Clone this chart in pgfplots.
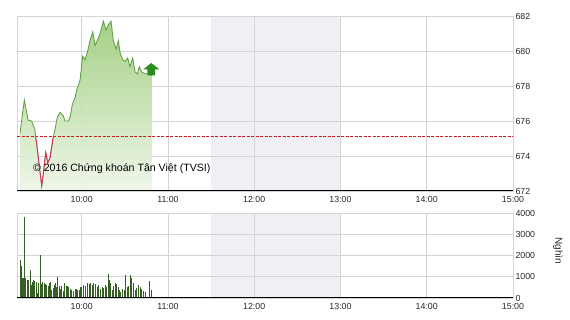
\documentclass[border=0pt]{standalone}
\usepackage{pgfplots}
\pgfplotsset{compat=1.18}
\usepackage{pgfplotstable}
\usepackage{fontspec}
\setmainfont{Liberation Sans}
\definecolor{linegreen}{RGB}{95,160,70}
\definecolor{filltop}{RGB}{155,203,120}
\definecolor{fillbot}{RGB}{238,246,232}
\definecolor{redline}{RGB}{225,40,90}
\definecolor{refred}{RGB}{200,30,30}
\definecolor{shadegray}{RGB}{240,240,244}
\definecolor{gridgray}{RGB}{212,212,212}
\definecolor{bargreen}{RGB}{55,95,35}
\definecolor{arrowgreen}{RGB}{40,140,30}

\pgfdeclareplotmark{tvarrow}{%
  \pgfpathmoveto{\pgfpoint{-4.5pt}{0pt}}%
  \pgfpathlineto{\pgfpoint{3.3pt}{0pt}}%
  \pgfpathlineto{\pgfpoint{3.3pt}{6pt}}%
  \pgfpathlineto{\pgfpoint{7.6pt}{6pt}}%
  \pgfpathlineto{\pgfpoint{-0.6pt}{12.5pt}}%
  \pgfpathlineto{\pgfpoint{-8.8pt}{6pt}}%
  \pgfpathlineto{\pgfpoint{-4.5pt}{6pt}}%
  \pgfpathclose
  \pgfusepathqfill}

% minutes after 9:00, index value
\pgfplotstableread{
m v
17.1 675.3
20.1 677.2
22.7 676.05
25.2 676.0
27.5 675.5
27.9 675.1
28.7 674.7
29.8 673.9
32.2 672.3
33.3 673.0
35.0 674.2
36.4 673.6
38.0 673.9
39.8 674.9
40.3 675.1
41.4 675.5
43.0 676.2
44.9 676.5
47.2 676.3
48.4 676.0
50.7 676.0
52.0 676.25
53.6 677.0
55.4 677.3
56.6 677.8
58.8 678.3
60.7 679.7
62.3 679.5
63.9 679.9
65.8 680.6
67.7 681.1
69.3 680.3
70.9 680.6
72.8 681.0
75.1 681.7
76.9 681.2
78.5 681.5
80.4 681.7
82.0 680.6
83.9 680.1
85.5 680.6
86.7 679.9
88.6 679.5
90.2 679.4
92.0 679.6
93.6 679.1
95.5 679.6
97.1 678.8
98.7 678.7
100.1 679.1
101.8 678.8
104.1 678.7
106.4 678.7
108.8 678.6
}\price

\pgfplotstableread{
m v
27.9 675.1
28.7 674.7
29.8 673.9
32.2 672.3
33.3 673.0
35.0 674.2
36.4 673.6
38.0 673.9
39.8 674.9
40.3 675.1
}\pricered

\pgfplotstableread{
m v
17.1 1790
17.8 1500
18.5 960
19.4 960
20.1 3800
20.8 925
22.0 850
22.9 850
24.3 1320
25.0 610
25.7 770
26.6 850
27.5 815
28.5 770
29.4 220
30.1 690
31.3 2020
31.9 660
32.9 770
33.8 720
34.7 660
35.7 630
36.6 565
37.5 720
38.4 770
39.1 380
40.1 455
41.0 610
41.7 720
42.6 535
43.5 970
44.5 565
45.2 410
46.1 565
47.3 345
48.2 720
49.1 565
50.0 565
51.0 500
52.1 410
53.0 375
54.2 345
55.4 440
56.3 410
57.2 375
58.4 375
59.3 535
60.2 500
61.2 610
62.8 565
64.0 720
65.1 660
66.3 720
67.4 610
68.4 690
69.5 660
70.7 500
71.8 610
73.0 410
74.2 535
75.3 470
76.5 610
77.4 500
78.3 1130
79.3 850
80.2 690
81.1 375
82.3 565
83.4 720
84.4 660
85.3 500
86.2 375
87.2 280
88.3 410
89.5 375
90.6 1080
91.6 500
92.7 565
93.9 1070
94.8 925
96.0 720
97.1 375
98.3 455
99.5 610
100.6 500
101.8 410
102.9 345
104.1 280
107.1 815
108.7 375
}\volume

\pgfplotsset{
  tvsi/.style={
    scale only axis, width=496pt,
    xmin=15, xmax=360,
    xtick={60,120,180,240,300,360},
    xticklabels={10:00,11:00,12:00,13:00,14:00,15:00},
    yticklabel pos=right,
    grid=major,
    major grid style={draw=gridgray, line width=0.6pt},
    axis line style={draw=gridgray, line width=0.6pt},
    major tick length=0pt,
    tick style={draw=none},
    ticklabel style={font=\fontsize{8.8}{10}\selectfont, text=black!85},
    xticklabel style={yshift=-1.5pt},
    yticklabel style={xshift=-1pt},
    /pgf/number format/assume math mode=true,
    /pgf/number format/1000 sep={},
    set layers,
    clip=true,
  }
}

\begin{document}
\begin{tikzpicture}
\begin{axis}[tvsi, at={(17pt,129pt)}, anchor=south west, height=175pt,
  ymin=672, ymax=682, ytick={672,674,...,682}]
  \addplot[on layer=axis background, draw=none, fill=shadegray]
    coordinates {(150,672) (150,682) (240,682) (240,672)} -- cycle;
  \addplot[draw=none, top color=filltop, bottom color=fillbot, fill opacity=0.9]
    table[x=m, y=v] {\price} |- (axis cs:17.1,672) -- cycle;
  \addplot[refred, dashed, line width=0.7pt, dash pattern=on 3pt off 1.5pt]
    coordinates {(15,675.1) (360,675.1)};
  \addplot[linegreen, line width=0.85pt] table[x=m, y=v] {\price};
  \addplot[redline, line width=0.85pt] table[x=m, y=v] {\pricered};
  \addplot[only marks, mark=tvarrow, color=arrowgreen]
    coordinates {(108.8,678.6)};
  \draw[black, line width=1.3pt] (rel axis cs:0,0) -- (rel axis cs:1,0);
  \node[font=\fontsize{10.6}{12}\selectfont, anchor=west, inner sep=0pt]
    at (rel axis cs:0.032,0.127) {© 2016 Chứng khoán Tân Việt (TVSI)};
\end{axis}
\begin{axis}[tvsi, at={(17pt,22pt)}, anchor=south west, height=85pt,
  ymin=0, ymax=4000, ytick={0,1000,...,4000}]
  \addplot[on layer=axis background, draw=none, fill=shadegray]
    coordinates {(150,0) (150,4000) (240,4000) (240,0)} -- cycle;
  \addplot[ycomb, bargreen, line width=1.0pt, no marks] table[x=m, y=v] {\volume};
  \draw[black, line width=1.3pt] (rel axis cs:0,0) -- (rel axis cs:1,0);
\end{axis}
\node[rotate=-90, font=\fontsize{10}{12}\selectfont, text=black!85] at (558pt,69pt) {Nghìn};
\path[use as bounding box] (0,0) rectangle (570pt,320pt);
\end{tikzpicture}
\end{document}
